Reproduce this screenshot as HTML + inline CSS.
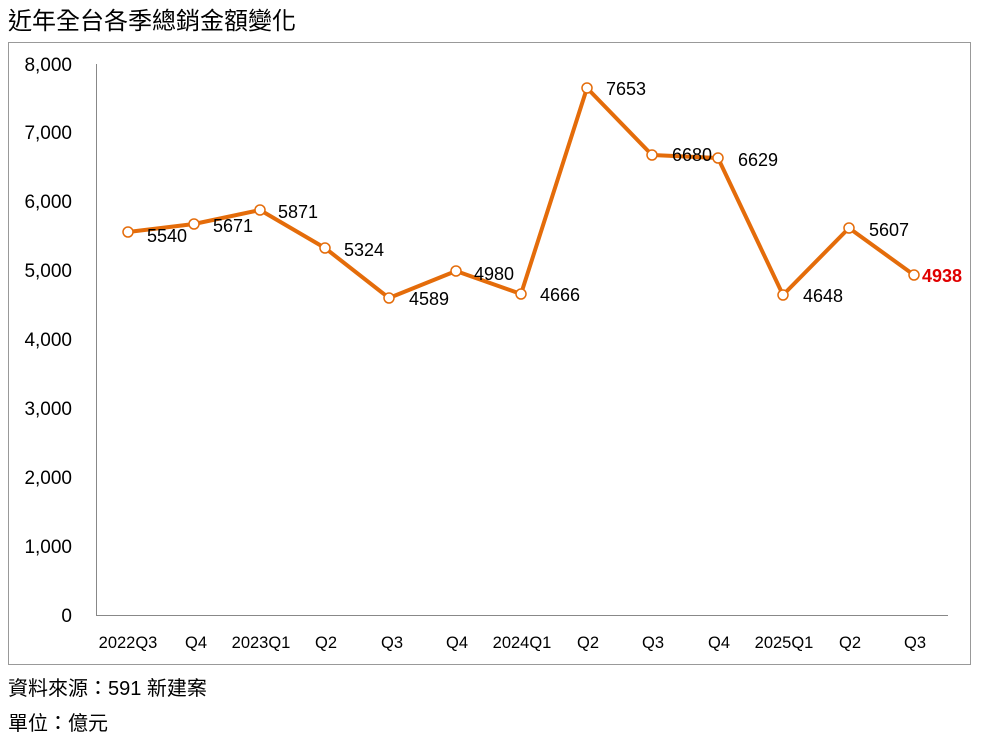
<!DOCTYPE html>
<html><head><meta charset="utf-8"><style>
body{margin:0;background:#fff;width:983px;height:743px;overflow:hidden}
svg{display:block}
text{font-family:"Liberation Sans","Noto Sans CJK TC",sans-serif}
</style></head><body>
<svg width="983" height="743" viewBox="0 0 983 743">
<text x="8" y="29" font-size="24" fill="#000">近年全台各季總銷金額變化</text>
<rect x="8.5" y="42.5" width="962" height="622" fill="none" stroke="#999" stroke-width="1"/>
<line x1="96.5" y1="64" x2="96.5" y2="615" stroke="#888"/>
<line x1="96" y1="615.5" x2="948" y2="615.5" stroke="#888"/>
<g font-size="19" fill="#000" text-anchor="end">
<text x="72" y="622">0</text>
<text x="72" y="553">1,000</text>
<text x="72" y="484">2,000</text>
<text x="72" y="415">3,000</text>
<text x="72" y="346">4,000</text>
<text x="72" y="277">5,000</text>
<text x="72" y="208">6,000</text>
<text x="72" y="139">7,000</text>
<text x="72" y="71">8,000</text>
</g>
<g font-size="16.5" fill="#000" text-anchor="middle">
<text x="128" y="648">2022Q3</text><text x="196" y="648">Q4</text><text x="261" y="648">2023Q1</text>
<text x="326" y="648">Q2</text><text x="392" y="648">Q3</text><text x="457" y="648">Q4</text>
<text x="522" y="648">2024Q1</text><text x="588" y="648">Q2</text><text x="653" y="648">Q3</text>
<text x="719" y="648">Q4</text><text x="784" y="648">2025Q1</text><text x="850" y="648">Q2</text><text x="915" y="648">Q3</text>
</g>
<polyline fill="none" stroke="#E46C0A" stroke-width="4" stroke-linejoin="round" points="128,232 194,224 260,210 325,248 389,298 456,271 521,294 587,88 652,155 718,158 783,295 849,228 914,275"/>
<g fill="#fff" stroke="#E46C0A" stroke-width="1.5">
<circle cx="128" cy="232" r="5"/><circle cx="194" cy="224" r="5"/><circle cx="260" cy="210" r="5"/>
<circle cx="325" cy="248" r="5"/><circle cx="389" cy="298" r="5"/><circle cx="456" cy="271" r="5"/>
<circle cx="521" cy="294" r="5"/><circle cx="587" cy="88" r="5"/><circle cx="652" cy="155" r="5"/>
<circle cx="718" cy="158" r="5"/><circle cx="783" cy="295" r="5"/><circle cx="849" cy="228" r="5"/>
<circle cx="914" cy="275" r="5"/>
</g>
<g font-size="18" fill="#000">
<text x="147" y="242">5540</text><text x="213" y="232">5671</text><text x="278" y="218">5871</text>
<text x="344" y="256">5324</text><text x="409" y="305">4589</text><text x="474" y="280">4980</text>
<text x="540" y="301">4666</text><text x="606" y="95">7653</text><text x="672" y="161">6680</text>
<text x="738" y="166">6629</text><text x="803" y="302">4648</text><text x="869" y="236">5607</text>
</g>
<text x="922" y="282" font-size="18" font-weight="bold" fill="#E00000">4938</text>
<text x="8" y="695" font-size="20" fill="#000">資料來源：591 新建案</text>
<text x="8" y="730" font-size="20" fill="#000">單位：億元</text>
</svg>
</body></html>
